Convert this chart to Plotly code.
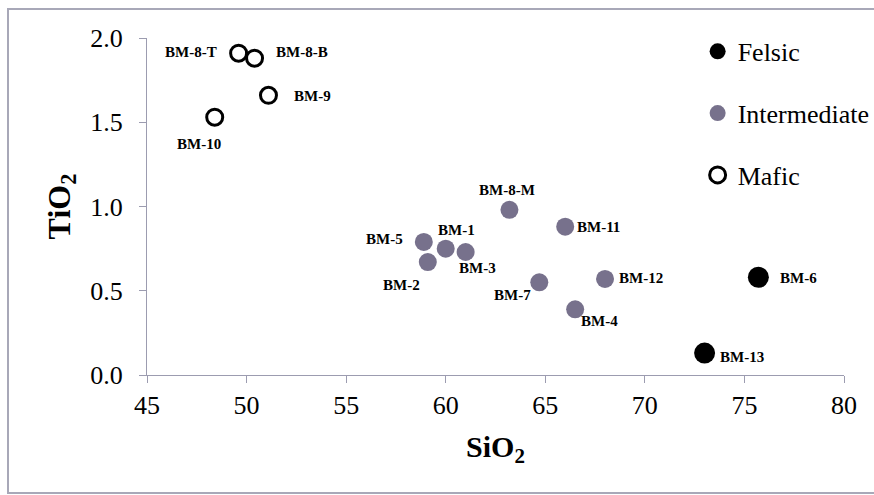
import plotly.graph_objects as go

# ---- data ----
felsic_names = ["BM-6", "BM-13"]
felsic_sio2 = [75.7, 73.0]
felsic_tio2 = [0.58, 0.13]

inter_names = ["BM-8-M", "BM-11", "BM-5", "BM-1", "BM-3", "BM-2", "BM-7", "BM-12", "BM-4"]
inter_sio2 = [63.2, 66.0, 58.9, 60.0, 61.0, 59.1, 64.7, 68.0, 66.5]
inter_tio2 = [0.98, 0.88, 0.79, 0.75, 0.73, 0.67, 0.55, 0.57, 0.39]

mafic_names = ["BM-8-T", "BM-8-B", "BM-9", "BM-10"]
mafic_sio2 = [49.6, 50.4, 51.1, 48.4]
mafic_tio2 = [1.91, 1.88, 1.66, 1.53]

x_ticks = [45, 50, 55, 60, 65, 70, 75, 80]
y_ticks = [0.0, 0.5, 1.0, 1.5, 2.0]

# label placement styles (anchor, pixel shifts)
label_style = {
    "BM-8-T": ("right", -20, 1), "BM-8-B": ("left", 19, 6), "BM-9": ("left", 24, -1),
    "BM-10": ("center", -16, -27), "BM-8-M": ("center", -2, 20), "BM-11": ("left", 10, 0),
    "BM-5": ("right", -19, 3), "BM-1": ("center", 11, 19), "BM-3": ("center", 12, -16),
    "BM-2": ("center", -26, -23), "BM-7": ("center", -27, -13), "BM-12": ("left", 12, 1),
    "BM-4": ("center", 24, -12), "BM-6": ("left", 20, -1), "BM-13": ("left", 13, -4),
}

SERIF = "Liberation Serif"
AX = "#9c9cb0"

fig = go.Figure()
fig.add_trace(go.Scatter(x=felsic_sio2, y=felsic_tio2, mode="markers", name="Felsic",
                         legendgroup="f",
                         marker=dict(size=21, color="black", line=dict(width=0))))
fig.add_trace(go.Scatter(x=inter_sio2, y=inter_tio2, mode="markers", name="Intermediate",
                         legendgroup="i",
                         marker=dict(size=18, color="#77718c", line=dict(width=0))))
fig.add_trace(go.Scatter(x=mafic_sio2, y=mafic_tio2, mode="markers", name="Mafic",
                         legendgroup="m",
                         marker=dict(size=16, color="white", line=dict(width=3, color="black"))))

annotations = []
for names, xs, ys in [(felsic_names, felsic_sio2, felsic_tio2),
                      (inter_names, inter_sio2, inter_tio2),
                      (mafic_names, mafic_sio2, mafic_tio2)]:
    for n, xv, yv in zip(names, xs, ys):
        anc, dx, dy = label_style[n]
        annotations.append(dict(x=xv, y=yv, xref="x", yref="y", text=f"<b>{n}</b>",
                                showarrow=False, xanchor=anc, yanchor="middle",
                                xshift=dx, yshift=dy,
                                font=dict(family=SERIF, size=15, color="black")))

fig.update_layout(
    width=874, height=495,
    font=dict(family=SERIF, color="black"),
    margin=dict(l=147, r=30, t=38, b=120, autoexpand=False),
    paper_bgcolor="white", plot_bgcolor="white",
    annotations=annotations,
    showlegend=True,
    legend=dict(x=0.79, y=1.03, xanchor="left", yanchor="top",
                font=dict(family=SERIF, size=26, color="black"),
                tracegroupgap=25, traceorder="grouped", itemwidth=30,
                bgcolor="rgba(0,0,0,0)"),
    shapes=[dict(type="rect", xref="paper", yref="paper",
                 x0=(8 - 147) / 697, x1=(880 - 147) / 697,
                 y0=(375 - 493) / 337, y1=(375 - 9) / 337,
                 line=dict(color="#a8a8b8", width=2), layer="below")],
)

fig.update_xaxes(range=[45, 80], tickvals=x_ticks, ticktext=[str(v) for v in x_ticks],
                 showgrid=False, zeroline=False, showline=True, linecolor=AX, linewidth=1,
                 ticks="outside", ticklen=7, tickcolor=AX, ticklabelstandoff=0,
                 tickfont=dict(family=SERIF, size=26, color="black"),
                 title=dict(text="<b>SiO<sub>2</sub></b>", standoff=16,
                            font=dict(family=SERIF, size=30, color="black")))
fig.update_yaxes(range=[0, 2.0], tickvals=y_ticks, ticktext=[f"{v:.1f}" for v in y_ticks],
                 showgrid=False, zeroline=False, showline=True, linecolor=AX, linewidth=1,
                 ticks="outside", ticklen=7, tickcolor=AX, ticklabelstandoff=11,
                 tickfont=dict(family=SERIF, size=26, color="black"),
                 title=dict(text="<b>TiO<sub>2</sub></b>", standoff=10,
                            font=dict(family=SERIF, size=32, color="black")))

fig.write_html("out.html")
